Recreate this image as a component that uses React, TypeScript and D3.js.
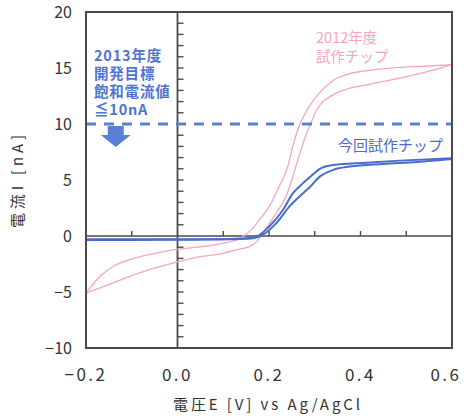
import React from "react";
import * as d3 from "d3";

// 2012 prototype chip (pink): forward scan (lower/right branch) and reverse scan (upper/left)
const pinkFwdX = [-0.2, -0.155, -0.104, -0.053, 0.0, 0.042, 0.093, 0.137, 0.157, 0.173, 0.186, 0.215, 0.237, 0.252, 0.263, 0.277, 0.295, 0.304, 0.34, 0.377, 0.413, 0.45, 0.486, 0.523, 0.559, 0.6];
const pinkFwdY = [-5.1, -4.4, -3.6, -2.9, -2.3, -1.9, -1.6, -1.15, -0.95, -0.5, 0.24, 2.0, 3.5, 5.3, 6.8, 8.6, 10.4, 11.25, 12.6, 13.2, 13.5, 13.8, 14.1, 14.45, 14.8, 15.3];
const pinkRevX = [-0.2, -0.169, -0.14, -0.104, -0.067, -0.031, 0.0, 0.042, 0.093, 0.137, 0.165, 0.18, 0.2, 0.222, 0.241, 0.252, 0.263, 0.277, 0.295, 0.311, 0.341, 0.377, 0.414, 0.486, 0.559, 0.6];
const pinkRevY = [-5.1, -3.6, -2.7, -2.1, -1.7, -1.4, -1.2, -1.0, -0.7, -0.2, 0.7, 1.5, 2.6, 4.4, 6.2, 8.0, 9.5, 10.8, 12.0, 12.8, 13.9, 14.5, 14.76, 15.06, 15.2, 15.3];

// Current prototype chip (blue)
const blueFwdX = [-0.2, -0.1, 0.0, 0.1, 0.15, 0.17, 0.186, 0.215, 0.244, 0.274, 0.29, 0.311, 0.34, 0.377, 0.45, 0.523, 0.6];
const blueFwdY = [-0.35, -0.35, -0.33, -0.3, -0.25, -0.15, 0.1, 1.1, 2.6, 3.8, 4.4, 5.3, 5.9, 6.2, 6.43, 6.6, 6.87];
const blueRevX = [-0.2, -0.1, 0.0, 0.1, 0.15, 0.172, 0.2, 0.23, 0.252, 0.274, 0.282, 0.303, 0.311, 0.34, 0.413, 0.486, 0.6];
const blueRevY = [-0.3, -0.3, -0.3, -0.28, -0.2, -0.06, 0.83, 2.3, 3.8, 4.7, 5.0, 5.74, 6.0, 6.34, 6.55, 6.73, 6.94];

const targetValue = 10;

const xTickLabels = [-0.2, 0.0, 0.2, 0.4, 0.6];
const yTickLabels = [20, 15, 10, 5, 0, -5, -10];
const xMinorTicks = [-0.1, 0.1, 0.2, 0.3, 0.4, 0.5];
const yMinorTicks = d3.range(-10, 21, 1).filter((v) => v !== 0 && v !== 20 && v !== -10);

const annotationLines = ["2013年度", "開発目標", "飽和電流値", "≦10nA"];
const pinkLabel = ["2012年度", "試作チップ"];
const blueLabel = "今回試作チップ";

const W = 466;
const H = 416;
const left = 86, right = 452, top = 12, bottom = 348;

export default function App() {
  const x = d3.scaleLinear().domain([-0.2, 0.6]).range([left, right]);
  const y = d3.scaleLinear().domain([-10, 20]).range([bottom, top]);
  const line = d3
    .line<[number, number]>()
    .x((d) => x(d[0]))
    .y((d) => y(d[1]))
    .curve(d3.curveMonotoneX);
  const zip = (xs: number[], ys: number[]) => xs.map((v, i) => [v, ys[i]] as [number, number]);

  const pink = "#f4a6c0";
  const blue = "#4a6ccc";
  const axisCol = "#4a4a4a";
  const font = "'Noto Sans CJK JP', 'Noto Sans', sans-serif";

  const ax = x(-0.135);
  const ay = y(targetValue);

  return (
    <svg width={W} height={H} style={{ position: "absolute", left: 0, top: 0, background: "#fff" }}>
      <rect x={0} y={0} width={W} height={H} fill="#fff" />
      {/* zero axes */}
      <line x1={x(0)} x2={x(0)} y1={top} y2={bottom} stroke={axisCol} strokeWidth={1.8} />
      <line x1={left} x2={right} y1={y(0)} y2={y(0)} stroke={axisCol} strokeWidth={1.6} />
      {yMinorTicks.map((v) => (
        <line key={"ym" + v} x1={x(0)} x2={x(0) + 6} y1={y(v)} y2={y(v)} stroke={axisCol} strokeWidth={1.4} />
      ))}
      {xMinorTicks.map((v) => (
        <line key={"xm" + v} x1={x(v)} x2={x(v)} y1={y(0)} y2={y(0) - 5} stroke={axisCol} strokeWidth={1.4} />
      ))}

      {/* curves */}
      <path d={line(zip(pinkFwdX, pinkFwdY)) || ""} fill="none" stroke={pink} strokeWidth={1.3} />
      <path d={line(zip(pinkRevX, pinkRevY)) || ""} fill="none" stroke={pink} strokeWidth={1.3} />
      <path d={line(zip(blueFwdX, blueFwdY)) || ""} fill="none" stroke={blue} strokeWidth={2} />
      <path d={line(zip(blueRevX, blueRevY)) || ""} fill="none" stroke={blue} strokeWidth={2} />

      {/* target dashed line */}
      <line x1={left} x2={right} y1={y(targetValue)} y2={y(targetValue)} stroke="#5a7fd6" strokeWidth={3} strokeDasharray="10 8" />

      {/* arrow */}
      <path
        d={`M${ax - 8},${ay + 2} L${ax + 8},${ay + 2} L${ax + 8},${ay + 11} L${ax + 15},${ay + 11} L${ax},${ay + 23} L${ax - 15},${ay + 11} L${ax - 8},${ay + 11} Z`}
        fill="#5a7fd6"
      />

      {/* frame */}
      <rect x={left} y={top} width={right - left} height={bottom - top} fill="none" stroke={axisCol} strokeWidth={2} />

      {/* y tick labels */}
      {yTickLabels.map((v) => (
        <text key={"yl" + v} x={72} y={y(v) + 6} textAnchor="end" fontFamily={font} fontSize={16} fill="#333">
          {v < 0 ? "−" + Math.abs(v) : v}
        </text>
      ))}
      {/* x tick labels */}
      {xTickLabels.map((v) => (
        <text key={"xl" + v} x={v === 0.6 ? x(v) - 6 : x(v)} y={381} textAnchor="middle" fontFamily={font} fontSize={17} letterSpacing={2.5} fill="#333">
          {(v < 0 ? "−" : "") + Math.abs(v).toFixed(1)}
        </text>
      ))}

      {/* axis titles */}
      <text x={173} y={410} fontFamily={font} fontSize={15} fill="#333" textLength={187} lengthAdjust="spacing">
        電圧E [V] vs Ag/AgCl
      </text>
      <text transform={`translate(23,228) rotate(-90)`} fontFamily={font} fontSize={15} fill="#333" textLength={93} lengthAdjust="spacing">
        電流I [nA]
      </text>

      {/* annotations */}
      <text x={94} y={61} fontFamily={font} fontSize={14.5} letterSpacing={0.8} fontWeight="bold" fill="#4f74d3">
        {annotationLines.map((t, i) => (
          <tspan key={t} x={94} dy={i === 0 ? 0 : 18}>
            {t}
          </tspan>
        ))}
      </text>
      <text x={316} y={43} fontFamily={font} fontSize={14.5} fill={pink}>
        {pinkLabel.map((t, i) => (
          <tspan key={t} x={316} dy={i === 0 ? 0 : 19}>
            {t}
          </tspan>
        ))}
      </text>
      <text x={338} y={151} fontFamily={font} fontSize={15} fill={blue}>
        {blueLabel}
      </text>
    </svg>
  );
}
